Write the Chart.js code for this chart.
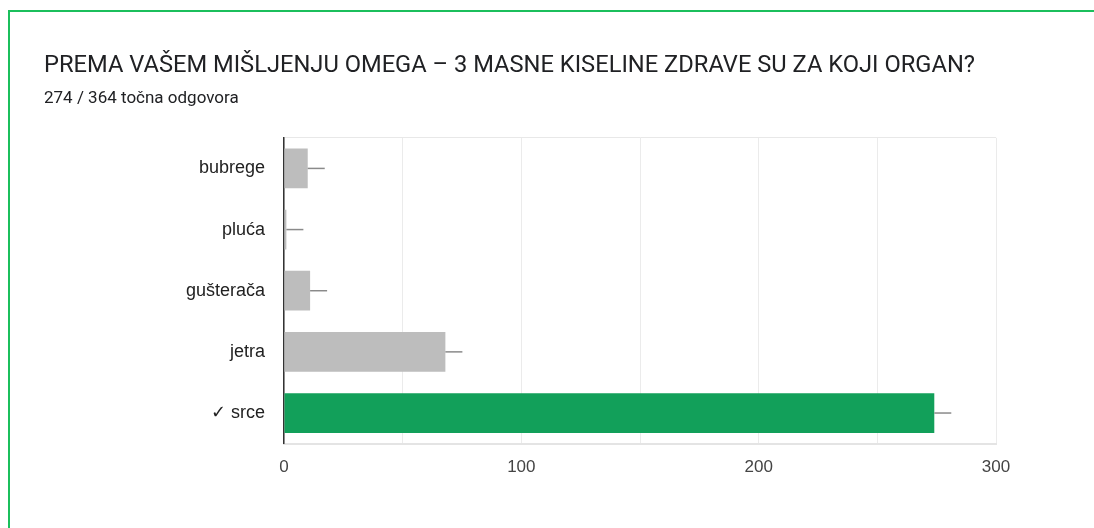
<!DOCTYPE html>
<html>
<head>
<meta charset="utf-8">
<script src="https://cdn.jsdelivr.net/npm/chart.js@4/dist/chart.umd.min.js"></script>
<style>
  body { margin: 0; background: #fff; }
  #frame { position: absolute; left: 8px; top: 10px; width: 1200px; height: 700px; border: 2px solid #1bbf5c; }
  #wrap { position: absolute; left: 0; top: 0; width: 1094px; height: 528px; }
</style>
</head>
<body>
<div id="frame"></div>
<div id="wrap"><canvas id="chart"></canvas></div>
<script>
// answers and counts
var categories = ["bubrege", "pluća", "gušterača", "jetra", "\u2713 srce"];
var counts = [10, 1, 11, 68, 274];
var barColors = ["#bdbdbd", "#bdbdbd", "#bdbdbd", "#bdbdbd", "#12a05a"];
var tickLabels = [0, 100, 200, 300];

// small whisker line after each bar
var whiskers = {
    id: 'whiskers',
    afterDatasetsDraw: function (chart) {
        var ctx = chart.ctx;
        var meta = chart.getDatasetMeta(0);
        ctx.save();
        ctx.strokeStyle = '#8a8a8a';
        ctx.lineWidth = 1.5;
        meta.data.forEach(function (bar) {
            ctx.beginPath();
            ctx.moveTo(bar.x, bar.y);
            ctx.lineTo(bar.x + 17, bar.y);
            ctx.stroke();
        });
        ctx.restore();
    }
};

window.onload = function () {
    var ctx = document.getElementById("chart").getContext('2d');
    new Chart(ctx, {
        type: 'bar',
        data: {
            labels: categories,
            datasets: [{
                data: counts,
                backgroundColor: barColors,
                categoryPercentage: 1,
                barPercentage: 0.65
            }]
        },
        plugins: [whiskers],
        options: {
            indexAxis: 'y',
            responsive: true,
            maintainAspectRatio: false,
            animation: false,
            layout: { padding: { left: 44, right: 98, top: 42, bottom: 36 } },
            plugins: {
                legend: { display: false },
                tooltip: { enabled: false },
                title: {
                    display: true,
                    text: "PREMA VAŠEM MIŠLJENJU OMEGA \u2013 3 MASNE KISELINE ZDRAVE SU ZA KOJI ORGAN?",
                    align: 'start',
                    color: '#202124',
                    font: { family: 'Roboto', size: 23.7, weight: 'normal' },
                    padding: { top: 10, bottom: 8 }
                },
                subtitle: {
                    display: true,
                    text: "274 / 364 točna odgovora",
                    align: 'start',
                    color: '#202124',
                    font: { family: 'Roboto', size: 17 },
                    padding: { top: 0, bottom: 29 }
                }
            },
            scales: {
                x: {
                    min: 0,
                    max: 300,
                    ticks: {
                        stepSize: 50,
                        padding: 14,
                        color: '#444',
                        font: { family: 'Arial', size: 17 },
                        callback: function (v) { return tickLabels.indexOf(v) >= 0 ? v : ''; }
                    },
                    grid: { color: '#ebebeb', drawTicks: false },
                    border: { color: '#e4e4e4', width: 2 }
                },
                y: {
                    afterFit: function (s) { s.width = 240; },
                    ticks: {
                        padding: 19,
                        color: '#222',
                        font: { family: 'Arial', size: 18 }
                    },
                    grid: {
                        drawTicks: false,
                        color: function (c) { return c.index === 0 ? '#e8e8e8' : 'rgba(0,0,0,0)'; }
                    },
                    border: { color: '#333', width: 1.5 }
                }
            }
        }
    });
};
</script>
</body>
</html>
